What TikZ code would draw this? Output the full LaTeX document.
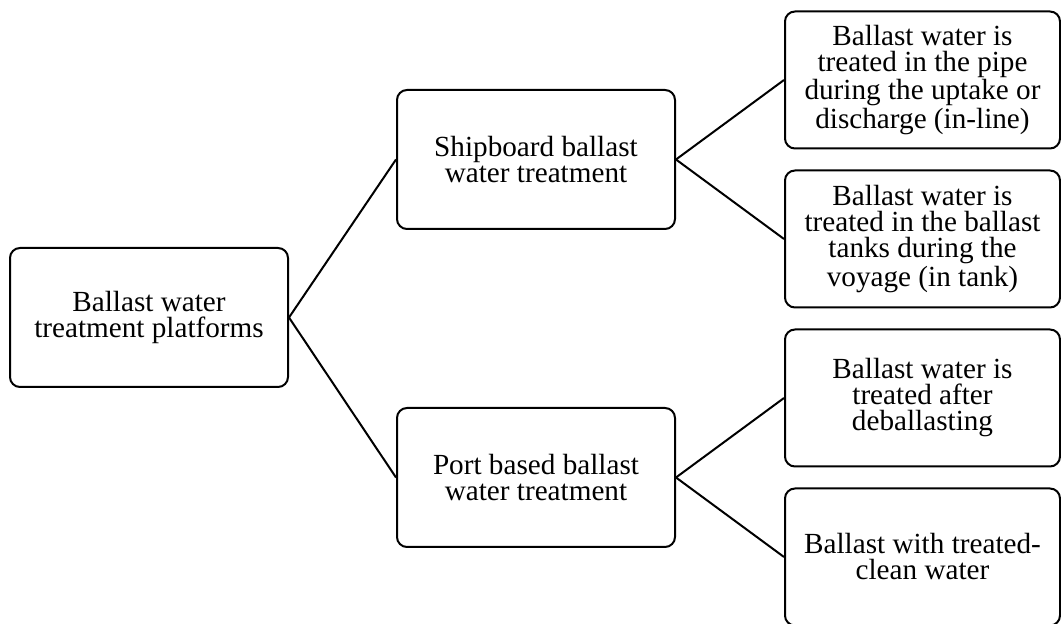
\documentclass[tikz,border=0pt]{standalone}
\usepackage{fontspec}
\setmainfont{Liberation Serif}
\usepackage{tikz}
\usetikzlibrary{positioning}

\begin{document}
\begin{tikzpicture}[
    x=0.5pt, y=-0.5pt,
    box/.style={
        rectangle,
        rounded corners=5pt,
        draw=black,
        line width=1pt,
        align=center,
        font=\fontsize{14.6}{13}\selectfont,
        minimum width=139pt,
        minimum height=69.5pt,
        inner sep=0pt,
    },
    leaf/.style={box, minimum width=137.5pt, minimum height=68.5pt},
    link/.style={line width=1pt, color=black}
]
\useasboundingbox (0,0) rectangle (1061,624);

\node[box] (root) at (149,317.5) {Ballast water\\treatment platforms};

\node[box] (ship) at (536,159.5) {Shipboard ballast\\water treatment};
\node[box] (port) at (536,477.5) {Port based ballast\\water treatment};

\node[leaf] (inline) at (922.5,80) {%
  Ballast water is\\ treated in the pipe\\ during the uptake or\\ discharge (in-line)};
\node[leaf] (intank) at (922.5,239) {%
  Ballast water is\\ treated in the ballast\\ tanks during the\\ voyage (in tank)};
\node[leaf] (after) at (922.5,398) {%
  Ballast water is\\ treated after\\ deballasting};
\node[leaf] (clean) at (922.5,557) {%
  Ballast with treated-\\ clean water};

\draw[link] (root.east) -- (ship.west);
\draw[link] (root.east) -- (port.west);
\draw[link] (ship.east) -- (inline.west);
\draw[link] (ship.east) -- (intank.west);
\draw[link] (port.east) -- (after.west);
\draw[link] (port.east) -- (clean.west);
\end{tikzpicture}
\end{document}
